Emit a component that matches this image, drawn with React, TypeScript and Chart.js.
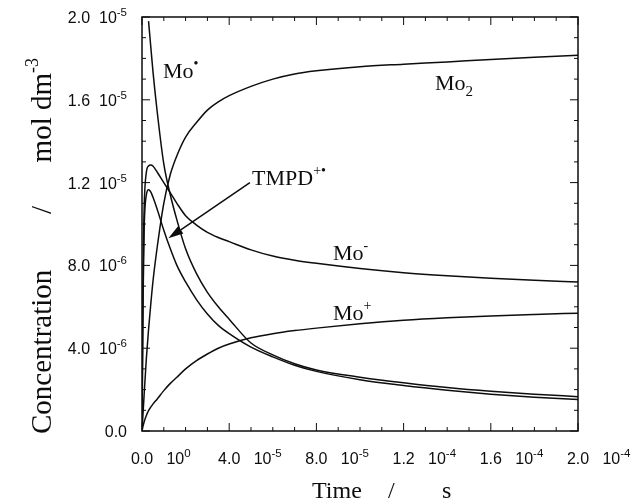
import { useEffect, useRef } from "react";
import { Chart, registerables } from "chart.js";

Chart.register(...registerables);

// Time axis in units of 1e-5 s
const timeE5 = [0, 0.05, 0.1, 0.2, 0.3, 0.4, 0.5, 0.7, 1.0, 1.3, 1.6, 2.0, 2.5, 3.0, 3.5, 4.0, 5.0, 6.0, 7.0, 8.0, 10, 12, 14, 16, 18, 20];

// Concentrations in units of 1e-6 mol dm^-3
const moRadical = [null, null, null, null, 19.8, 18.6, 17.4, 15.4, 12.9, 11.4, 10.2, 8.8, 7.6, 6.7, 6.0, 5.4, 4.25, 3.68, 3.25, 2.95, 2.6, 2.33, 2.1, 1.92, 1.78, 1.66];
const tmpdCation = [0, 6.5, 9.8, 11.4, 11.65, 11.55, 11.3, 10.7, 9.7, 8.8, 8.0, 7.2, 6.35, 5.65, 5.1, 4.7, 4.05, 3.58, 3.18, 2.88, 2.48, 2.2, 1.97, 1.78, 1.63, 1.52];
const moAnion = [0, 7.5, 10.8, 12.5, 12.8, 12.85, 12.8, 12.5, 12.0, 11.5, 11.0, 10.4, 9.95, 9.6, 9.35, 9.15, 8.75, 8.45, 8.25, 8.1, 7.85, 7.65, 7.5, 7.38, 7.28, 7.2];
const moDimer = [0, 0.9, 1.8, 3.5, 4.9, 6.1, 7.2, 8.9, 11.0, 12.4, 13.3, 14.2, 14.9, 15.5, 15.9, 16.2, 16.65, 17.0, 17.25, 17.4, 17.6, 17.72, 17.83, 17.95, 18.05, 18.15];
const moCation = [0, 0.25, 0.45, 0.75, 0.98, 1.15, 1.3, 1.55, 1.95, 2.3, 2.6, 3.0, 3.4, 3.72, 4.0, 4.2, 4.5, 4.7, 4.85, 4.97, 5.18, 5.35, 5.47, 5.56, 5.63, 5.69];

// Tick labels
const xTickValues = [0, 4e-5, 8e-5, 1.2e-4, 1.6e-4, 2.0e-4];
const xTickMantissas = ["0.0", "4.0", "8.0", "1.2", "1.6", "2.0"];
const xTickExponents = ["0", "-5", "-5", "-4", "-4", "-4"];
const yTickValues = [0, 4e-6, 8e-6, 1.2e-5, 1.6e-5, 2.0e-5];
const yTickMantissas = ["0.0", "4.0", "8.0", "1.2", "1.6", "2.0"];
const yTickExponents = ["", "-6", "-6", "-5", "-5", "-5"];

// Curve labels anchored in data coordinates (time s, concentration mol dm^-3)
const labelTexts = ["Mo", "Mo", "TMPD", "Mo", "Mo"];
const labelSups = ["•", "", "+•", "-", "+"];
const labelSubs = ["", "2", "", "", ""];
const labelTimes = [0.96e-5, 13.44e-5, 5.05e-5, 8.76e-5, 8.76e-5];
const labelConcs = [17.05e-6, 16.47e-6, 11.88e-6, 8.26e-6, 5.36e-6];

// Arrow from TMPD label to its curve (data coordinates)
const arrowFrom = { t: 4.95e-5, c: 12.0e-6 };
const arrowTo = { t: 1.21e-5, c: 9.31e-6 };

const SERIF = '"Liberation Serif", "Times New Roman", serif';
const SANS = '"Liberation Sans", Arial, sans-serif';
const INK = "#0d0d0d";

type Run = { text: string; size: number; font: string; dy?: number };

function runWidth(ctx: CanvasRenderingContext2D, runs: Run[]) {
  let w = 0;
  for (const r of runs) {
    ctx.font = `${r.size}px ${r.font}`;
    w += ctx.measureText(r.text).width;
  }
  return w;
}

function drawRuns(ctx: CanvasRenderingContext2D, x: number, y: number, runs: Run[]) {
  let cx = x;
  for (const r of runs) {
    ctx.font = `${r.size}px ${r.font}`;
    ctx.fillText(r.text, cx, y + (r.dy || 0));
    cx += ctx.measureText(r.text).width;
  }
}

const decorPlugin = {
  id: "decor",
  afterDraw(chart: any) {
    const ctx: CanvasRenderingContext2D = chart.ctx;
    const { left, right, top, bottom } = chart.chartArea;
    const xs = chart.scales.x;
    const ys = chart.scales.y;
    ctx.save();
    ctx.strokeStyle = INK;
    ctx.fillStyle = INK;
    ctx.textBaseline = "alphabetic";
    ctx.textAlign = "left";

    // frame
    ctx.lineWidth = 1.5;
    ctx.strokeRect(left, top, right - left, bottom - top);

    // ticks (inward)
    ctx.lineWidth = 1;
    ctx.beginPath();
    for (let i = 0; i <= 20; i++) {
      const px = xs.getPixelForValue(i * 1e-5);
      const len = i % 4 === 0 ? 8 : 4;
      ctx.moveTo(px, bottom);
      ctx.lineTo(px, bottom - len);
      ctx.moveTo(px, top);
      ctx.lineTo(px, top + len);
    }
    for (let i = 0; i <= 20; i++) {
      const py = ys.getPixelForValue(i * 1e-6);
      const len = i % 4 === 0 ? 8 : 4;
      ctx.moveTo(left, py);
      ctx.lineTo(left + len, py);
      ctx.moveTo(right, py);
      ctx.lineTo(right - len, py);
    }
    ctx.stroke();

    // x tick labels
    const tf = 16;
    const ef = 11.5;
    xTickValues.forEach((v, i) => {
      const px = xs.getPixelForValue(v);
      ctx.font = `${tf}px ${SANS}`;
      const mw = ctx.measureText(xTickMantissas[i]).width;
      const y = bottom + 33;
      drawRuns(ctx, px - mw / 2, y, [
        { text: xTickMantissas[i] + "   10", size: tf, font: SANS },
        { text: xTickExponents[i], size: ef, font: SANS, dy: -7 },
      ]);
    });

    // y tick labels
    yTickValues.forEach((v, i) => {
      const py = ys.getPixelForValue(v);
      const runs: Run[] = yTickExponents[i]
        ? [
            { text: yTickMantissas[i] + "  10", size: tf, font: SANS },
            { text: yTickExponents[i], size: ef, font: SANS, dy: -7 },
          ]
        : [{ text: yTickMantissas[i], size: tf, font: SANS }];
      const w = runWidth(ctx, runs);
      drawRuns(ctx, left - 15 - w, py + 6, runs);
    });

    // x title: "Time   /   s"
    const xSize = 24;
    const xBase = bottom + 67;
    drawRuns(ctx, left + 170, xBase, [{ text: "Time", size: xSize, font: SERIF }]);
    drawRuns(ctx, left + 246, xBase, [{ text: "/", size: xSize, font: SERIF }]);
    drawRuns(ctx, left + 300, xBase, [{ text: "s", size: xSize, font: SERIF }]);

    // y title (rotated): "Concentration   /   mol dm-3"
    const ySize = 29;
    const conc: Run[] = [{ text: "Concentration", size: ySize, font: SERIF }];
    const slash: Run[] = [{ text: "/", size: ySize, font: SERIF }];
    const unit: Run[] = [
      { text: "mol dm", size: ySize, font: SERIF },
      { text: "-3", size: 18, font: SERIF, dy: -13 },
    ];
    const uw = runWidth(ctx, unit);
    const sw = runWidth(ctx, slash);
    ctx.save();
    ctx.translate(left - 91, 0);
    ctx.rotate(-Math.PI / 2);
    // rotated frame: x = -canvasY
    drawRuns(ctx, -(bottom + 3), 0, conc);
    drawRuns(ctx, -210 - sw / 2, 0, slash);
    drawRuns(ctx, -58 - uw, 0, unit);
    ctx.restore();

    // curve labels
    const ls = 22;
    labelTexts.forEach((txt, i) => {
      const px = xs.getPixelForValue(labelTimes[i]);
      const py = ys.getPixelForValue(labelConcs[i]);
      const runs: Run[] = [{ text: txt, size: ls, font: SERIF }];
      if (labelSups[i]) runs.push({ text: labelSups[i], size: 14, font: SERIF, dy: -10 });
      if (labelSubs[i]) runs.push({ text: labelSubs[i], size: 15, font: SERIF, dy: 6 });
      drawRuns(ctx, px, py, runs);
    });

    // arrow
    const ax0 = xs.getPixelForValue(arrowFrom.t);
    const ay0 = ys.getPixelForValue(arrowFrom.c);
    const ax1 = xs.getPixelForValue(arrowTo.t);
    const ay1 = ys.getPixelForValue(arrowTo.c);
    const ang = Math.atan2(ay1 - ay0, ax1 - ax0);
    const hl = 15;
    const hw = 4.5;
    const bx = ax1 - hl * Math.cos(ang);
    const by = ay1 - hl * Math.sin(ang);
    ctx.lineWidth = 1.5;
    ctx.beginPath();
    ctx.moveTo(ax0, ay0);
    ctx.lineTo(bx, by);
    ctx.stroke();
    ctx.beginPath();
    ctx.moveTo(ax1, ay1);
    ctx.lineTo(bx + hw * Math.sin(ang), by - hw * Math.cos(ang));
    ctx.lineTo(bx - hw * Math.sin(ang), by + hw * Math.cos(ang));
    ctx.closePath();
    ctx.fill();

    ctx.restore();
  },
};

function series(label: string, vals: (number | null)[]) {
  return {
    label,
    data: timeE5.map((t, i) => ({ x: t * 1e-5, y: vals[i] === null ? null : (vals[i] as number) * 1e-6 })),
    borderColor: INK,
    borderWidth: 1.5,
    pointRadius: 0,
    fill: false,
    cubicInterpolationMode: "monotone" as const,
    spanGaps: false,
  };
}

export default function App() {
  const ref = useRef<HTMLCanvasElement | null>(null);
  useEffect(() => {
    if (!ref.current) return;
    const chart = new Chart(ref.current, {
      type: "line",
      data: {
        datasets: [
          series("Mo•", moRadical),
          series("TMPD+•", tmpdCation),
          series("Mo-", moAnion),
          series("Mo2", moDimer),
          series("Mo+", moCation),
        ],
      },
      options: {
        animation: false,
        responsive: false,
        devicePixelRatio: 1,
        layout: { padding: { left: 142, right: 56, top: 17, bottom: 73 } },
        plugins: { legend: { display: false }, tooltip: { enabled: false } },
        scales: {
          x: {
            type: "linear",
            min: 0,
            max: 2e-4,
            ticks: { display: false },
            grid: { display: false, drawTicks: false },
            border: { display: false },
            afterFit: (s: any) => {
              s.height = 0;
            },
          },
          y: {
            type: "linear",
            min: 0,
            max: 2e-5,
            ticks: { display: false },
            grid: { display: false, drawTicks: false },
            border: { display: false },
            afterFit: (s: any) => {
              s.width = 0;
            },
          },
        },
      },
      plugins: [decorPlugin],
    });
    return () => chart.destroy();
  }, []);
  return (
    <div style={{ position: "absolute", left: 0, top: 0, width: 634, height: 504, background: "#fff" }}>
      <canvas ref={ref} width={634} height={504} style={{ display: "block" }} />
    </div>
  );
}
